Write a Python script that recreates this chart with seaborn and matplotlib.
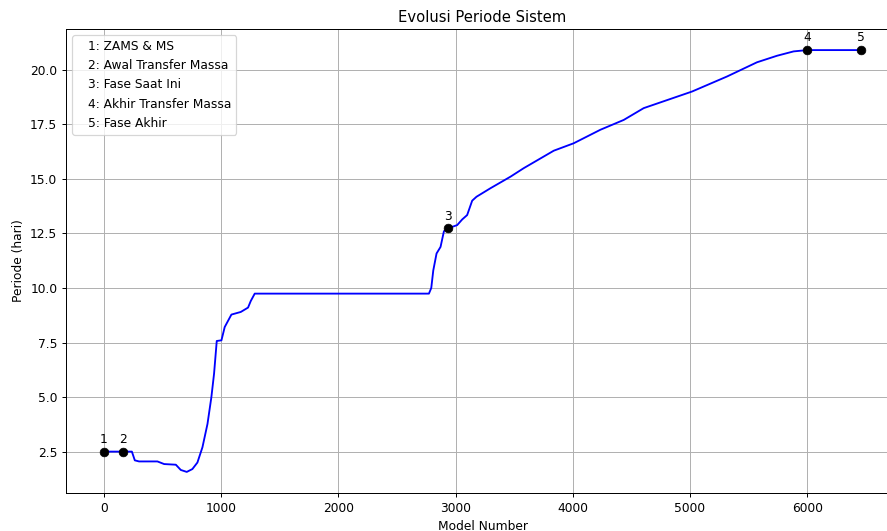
import matplotlib
matplotlib.use("Agg")
import matplotlib.pyplot as plt
import seaborn as sns
import pandas as pd

model = [0, 161, 239, 264, 300, 457, 514, 614, 656, 707, 755, 798, 841, 884, 917, 940, 963,
         1003, 1031, 1088, 1168, 1230, 1253, 1287, 2000, 2773, 2793, 2810, 2838, 2872, 2901,
         2935, 3014, 3057, 3099, 3142, 3179, 3298, 3469, 3582, 3838, 4008, 4236, 4435, 4605,
         5017, 5316, 5571, 5742, 5884, 6000, 6460]
period = [2.5, 2.5, 2.5, 2.1, 2.05, 2.05, 1.93, 1.9, 1.66, 1.57, 1.7, 2.0, 2.7, 3.77, 4.99,
          6.07, 7.57, 7.6, 8.21, 8.78, 8.9, 9.1, 9.4, 9.74, 9.74, 9.74, 10.0, 10.8, 11.58,
          11.88, 12.6, 12.73, 12.88, 13.14, 13.34, 14.0, 14.18, 14.57, 15.1, 15.49, 16.29,
          16.63, 17.25, 17.7, 18.24, 19.0, 19.69, 20.34, 20.64, 20.84, 20.9, 20.9]

phase_x = [0, 161, 2935, 6000, 6460]
phase_y = [2.5, 2.5, 12.73, 20.9, 20.9]
phase_id = ["1", "2", "3", "4", "5"]
phase_names = ["1: ZAMS & MS", "2: Awal Transfer Massa", "3: Fase Saat Ini",
               "4: Akhir Transfer Massa", "5: Fase Akhir"]

df = pd.DataFrame({"model": model, "period": period})
pts = pd.DataFrame({"x": phase_x, "y": phase_y})

DPI = 88.7
fig = plt.figure(figsize=(887/DPI, 531/DPI), dpi=DPI)
ax = fig.add_axes([66/887, 38/531, (899-66)/887, (493-29)/531])
sns.lineplot(data=df, x="model", y="period", color="blue", linewidth=1.5, ax=ax)
sns.scatterplot(data=pts, x="x", y="y", color="black", s=50, edgecolor="black", zorder=5, ax=ax)
for xi, yi, lab in zip(phase_x, phase_y, phase_id):
    ax.annotate(lab, (xi, yi), textcoords="offset points", xytext=(0, 7), ha="center", fontsize=10)

handles = [plt.Line2D([], [], linestyle="none", marker=None, label=n) for n in phase_names]
ax.legend(handles=handles, loc="upper left", handlelength=0, handletextpad=0.9)
ax.grid(True)
ax.set_title("Evolusi Periode Sistem")
ax.set_xlabel("Model Number")
ax.set_ylabel("Periode (hari)")
fig.savefig("out.png", dpi=DPI)
